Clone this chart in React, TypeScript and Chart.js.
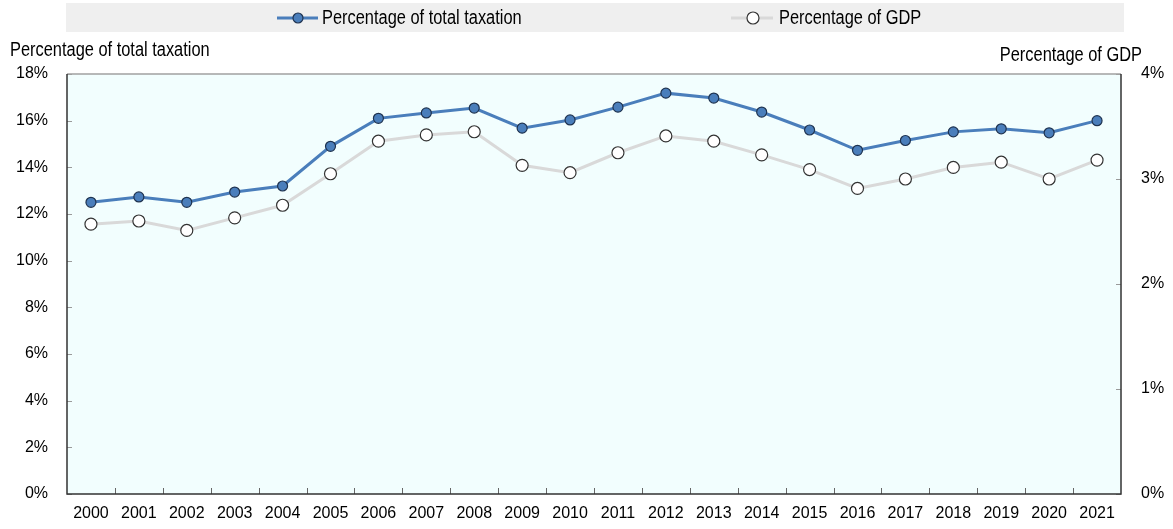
import React, { useEffect, useRef } from "react";
import { Chart, registerables } from "chart.js";

Chart.register(...registerables);

const years = ["2000", "2001", "2002", "2003", "2004", "2005", "2006", "2007", "2008", "2009", "2010", "2011", "2012", "2013", "2014", "2015", "2016", "2017", "2018", "2019", "2020", "2021"];
const taxationShare = [12.5, 12.73, 12.5, 12.94, 13.2, 14.9, 16.1, 16.33, 16.54, 15.68, 16.03, 16.58, 17.18, 16.97, 16.37, 15.6, 14.73, 15.15, 15.52, 15.65, 15.48, 16.0];
const gdpShare = [2.57, 2.6, 2.51, 2.63, 2.75, 3.05, 3.36, 3.42, 3.45, 3.13, 3.06, 3.25, 3.41, 3.36, 3.23, 3.09, 2.91, 3.0, 3.11, 3.16, 3.0, 3.18];
const leftTitle = "Percentage of total taxation";
const rightTitle = "Percentage of GDP";
const seriesNames = ["Percentage of total taxation", "Percentage of GDP"];

const FONT = '"Liberation Sans", Arial, sans-serif';
const CONDENSE = 0.82;

function condText(ctx: any, text: string, x: number, y: number, align: string, baseline: string) {
  ctx.save();
  ctx.translate(x, y);
  ctx.scale(CONDENSE, 1);
  ctx.textAlign = align;
  ctx.textBaseline = baseline;
  ctx.fillText(text, 0, 0);
  ctx.restore();
}

const deco = {
  id: "deco",
  beforeDraw(chart: any) {
    const { ctx, chartArea: a } = chart;
    ctx.save();
    ctx.fillStyle = "#efefef";
    ctx.fillRect(66, 3, 1058, 29);
    ctx.fillStyle = "#f2fefe";
    ctx.fillRect(a.left, a.top, a.right - a.left, a.bottom - a.top);
    ctx.restore();
  },
  beforeDatasetsDraw(chart: any) {
    const { ctx, chartArea: a, scales } = chart;
    ctx.save();
    ctx.strokeStyle = "#9a9a9a";
    ctx.lineWidth = 1;
    const y = scales.y;
    y.ticks.forEach((t: any) => {
      const py = Math.round(y.getPixelForValue(t.value)) + 0.5;
      ctx.beginPath();
      ctx.moveTo(a.left, py);
      ctx.lineTo(a.left + 5, py);
      ctx.stroke();
    });
    const y1 = scales.y1;
    y1.ticks.forEach((t: any) => {
      const py = Math.round(y1.getPixelForValue(t.value)) + 0.5;
      ctx.beginPath();
      ctx.moveTo(a.right - 5, py);
      ctx.lineTo(a.right, py);
      ctx.stroke();
    });
    const x = scales.x;
    ctx.strokeStyle = "#666";
    for (let i = 1; i < years.length; i++) {
      const px = Math.round((x.getPixelForValue(i - 1) + x.getPixelForValue(i)) / 2) + 0.5;
      ctx.beginPath();
      ctx.moveTo(px, a.bottom);
      ctx.lineTo(px, a.bottom - 6);
      ctx.stroke();
    }
    ctx.strokeStyle = "#a0a0a0";
    ctx.lineWidth = 1.5;
    ctx.beginPath();
    ctx.moveTo(a.left, a.top);
    ctx.lineTo(a.right, a.top);
    ctx.stroke();
    ctx.strokeStyle = "#333";
    ctx.lineWidth = 1.5;
    ctx.beginPath();
    ctx.moveTo(a.left, a.top);
    ctx.lineTo(a.left, a.bottom);
    ctx.lineTo(a.right, a.bottom);
    ctx.lineTo(a.right, a.top);
    ctx.stroke();
    ctx.restore();
  },
  afterDraw(chart: any) {
    const { ctx } = chart;
    ctx.save();
    ctx.font = `20px ${FONT}`;
    ctx.fillStyle = "#000";
    condText(ctx, leftTitle, 10, 56, "left", "alphabetic");
    condText(ctx, rightTitle, 1142, 61, "right", "alphabetic");
    const ly = 18;
    const ds = chart.data.datasets;
    const items = [
      { x0: 277, x1: 318, mx: 298, tx: 322, d: ds[0], label: seriesNames[0] },
      { x0: 731, x1: 773, mx: 753, tx: 779, d: ds[1], label: seriesNames[1] },
    ];
    items.forEach((it) => {
      ctx.strokeStyle = it.d.borderColor;
      ctx.lineWidth = 3;
      ctx.beginPath();
      ctx.moveTo(it.x0, ly);
      ctx.lineTo(it.x1, ly);
      ctx.stroke();
      ctx.fillStyle = it.d.pointBackgroundColor;
      ctx.strokeStyle = it.d.pointBorderColor;
      ctx.lineWidth = 1.2;
      ctx.beginPath();
      ctx.arc(it.mx, ly, it.d.pointRadius, 0, Math.PI * 2);
      ctx.fill();
      ctx.stroke();
      ctx.fillStyle = "#000";
      condText(ctx, it.label, it.tx, ly, "left", "middle");
    });
    ctx.restore();
  },
};

export default function App() {
  const ref = useRef<HTMLCanvasElement | null>(null);
  useEffect(() => {
    if (!ref.current) return;
    const tickFont = { family: FONT, size: 16 };
    const chart = new Chart(ref.current, {
      type: "line",
      data: {
        labels: years,
        datasets: [
          {
            label: seriesNames[0],
            data: taxationShare,
            yAxisID: "y",
            borderColor: "#4a7ebb",
            borderWidth: 3,
            pointBackgroundColor: "#4a7ebb",
            pointBorderColor: "#1f3350",
            pointBorderWidth: 1.2,
            pointRadius: 5,
            tension: 0,
          },
          {
            label: seriesNames[1],
            data: gdpShare,
            yAxisID: "y1",
            borderColor: "#d9d9d9",
            borderWidth: 3,
            pointBackgroundColor: "#ffffff",
            pointBorderColor: "#333333",
            pointBorderWidth: 1.2,
            pointRadius: 6,
            tension: 0,
          },
        ],
      },
      options: {
        animation: false,
        responsive: true,
        maintainAspectRatio: false,
        layout: { padding: { top: 74, left: 0, right: 0, bottom: 0 } },
        plugins: { legend: { display: false }, tooltip: { enabled: false }, title: { display: false } },
        scales: {
          x: {
            type: "category",
            offset: true,
            grid: { display: false, drawTicks: false, tickLength: 0, offset: true },
            border: { display: false },
            ticks: { font: tickFont, color: "#000", padding: 10, maxRotation: 0, autoSkip: false },
            afterFit: (s: any) => { s.height = 35; },
          },
          y: {
            position: "left",
            min: 0,
            max: 18,
            grid: { display: false, drawTicks: false, tickLength: 0 },
            border: { display: false },
            ticks: { stepSize: 2, font: tickFont, color: "#000", padding: 19, callback: (v: any) => `${v}%` },
            afterFit: (s: any) => { s.width = 67; },
          },
          y1: {
            position: "right",
            min: 0,
            max: 4,
            grid: { display: false, drawTicks: false, tickLength: 0 },
            border: { display: false },
            ticks: { stepSize: 1, font: tickFont, color: "#000", padding: 20, callback: (v: any) => `${v}%` },
            afterFit: (s: any) => { s.width = 52; },
          },
        },
      },
      plugins: [deco],
    });
    return () => chart.destroy();
  }, []);
  return (
    <div style={{ position: "fixed", left: 0, top: 0, width: 1173, height: 529 }}>
      <canvas ref={ref} />
    </div>
  );
}
